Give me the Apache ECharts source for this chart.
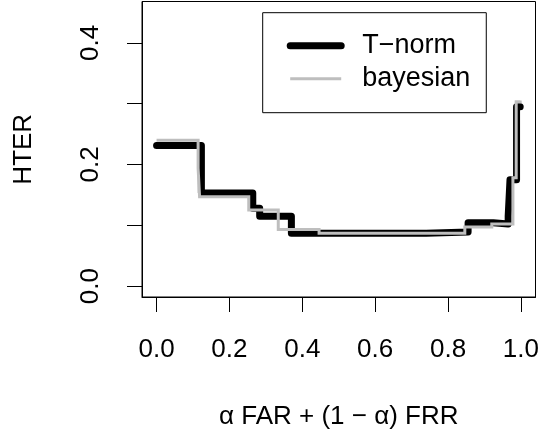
<!DOCTYPE html>
<html>
<head>
<meta charset="utf-8">
<script src="https://cdn.jsdelivr.net/npm/echarts@6/dist/echarts.min.js"></script>
<style>html,body{margin:0;padding:0;background:#fff}#c{width:542px;height:435px}</style>
</head>
<body>
<div id="c"></div>
<script>
// T-norm step curve (x breakpoints, HTER values)
var tnormX = [0, 0.123, 0.264, 0.283, 0.37, 0.74, 0.855, 0.924, 0.965, 0.970, 0.988, 0.998];
var tnormY = [0.231, 0.153, 0.128, 0.115, 0.087, 0.089, 0.104, 0.102, 0.115, 0.175, 0.295, 0.295];
// bayesian step curve
var bayesX = [0, 0.114, 0.118, 0.253, 0.334, 0.446, 0.846, 0.920, 0.978, 0.987, 0.998];
var bayesY = [0.240, 0.194, 0.147, 0.125, 0.093, 0.087, 0.097, 0.102, 0.178, 0.303, 0.305];
var xTicks = [0, 0.2, 0.4, 0.6, 0.8, 1.0];
var yTicks = [0, 0.1, 0.2, 0.3, 0.4];
var yLabels = [0, 0.2, 0.4];

function pts(xs, ys) { return xs.map(function (x, i) { return [x, ys[i]]; }); }
var FONT = 'Liberation Sans';
var chart = echarts.init(document.getElementById('c'));
chart.setOption({
  animation: false,
  textStyle: { fontFamily: FONT },
  grid: { left: 142, right: 4.4, top: 1.5, bottom: 138, show: true, borderColor: '#000', borderWidth: 1, containLabel: false },
  xAxis: {
    type: 'value', min: -0.04, max: 1.04,
    name: 'α FAR + (1 − α) FRR', nameLocation: 'middle', nameGap: 107,
    nameTextStyle: { fontSize: 26, color: '#000', fontFamily: FONT },
    axisLine: { show: true, onZero: false, lineStyle: { color: '#000', width: 1 } },
    axisTick: { show: true, inside: false, length: 15, customValues: xTicks, lineStyle: { color: '#000' } },
    axisLabel: { customValues: xTicks, fontSize: 26, color: '#000', margin: 40, formatter: function (v) { return v.toFixed(1); } },
    splitLine: { show: false }
  },
  yAxis: {
    type: 'value', min: -0.018, max: 0.468,
    name: 'HTER', nameLocation: 'middle', nameGap: 105,
    nameTextStyle: { fontSize: 26, color: '#000', fontFamily: FONT },
    axisLine: { show: true, onZero: false, lineStyle: { color: '#000', width: 1 } },
    axisTick: { show: true, inside: false, length: 15, customValues: yTicks, lineStyle: { color: '#000' } },
    axisLabel: { customValues: yLabels, fontSize: 26, color: '#000', margin: 38, rotate: 90, formatter: function (v) { return v.toFixed(1); } },
    splitLine: { show: false }
  },
  legend: {
    orient: 'vertical', left: 262.7, top: 12.7,
    borderColor: '#000', borderWidth: 1, borderRadius: 0,
    padding: [18, 16, 19, 24],
    itemWidth: 51, itemHeight: 14, itemGap: 3,
    itemStyle: { opacity: 0 },
    textStyle: { fontSize: 27, color: '#000', fontFamily: FONT, lineHeight: 30, padding: [0, 0, 0, 16] },
    data: [
      { name: 'T−norm', lineStyle: { width: 7, color: '#000', cap: 'round' }, itemStyle: { opacity: 0 } },
      { name: 'bayesian', lineStyle: { width: 3, color: '#bebebe' }, itemStyle: { opacity: 0 } }
    ]
  },
  series: [
    { name: 'T−norm', type: 'line', step: 'end', symbol: 'none', data: pts(tnormX, tnormY),
      lineStyle: { color: '#000', width: 7, cap: 'round', join: 'round' }, itemStyle: { color: '#000' } },
    { name: 'bayesian', type: 'line', step: 'end', symbol: 'none', data: pts(bayesX, bayesY),
      lineStyle: { color: '#bebebe', width: 3, cap: 'butt', join: 'miter' }, itemStyle: { color: '#bebebe' } }
  ]
});
</script>
</body>
</html>
